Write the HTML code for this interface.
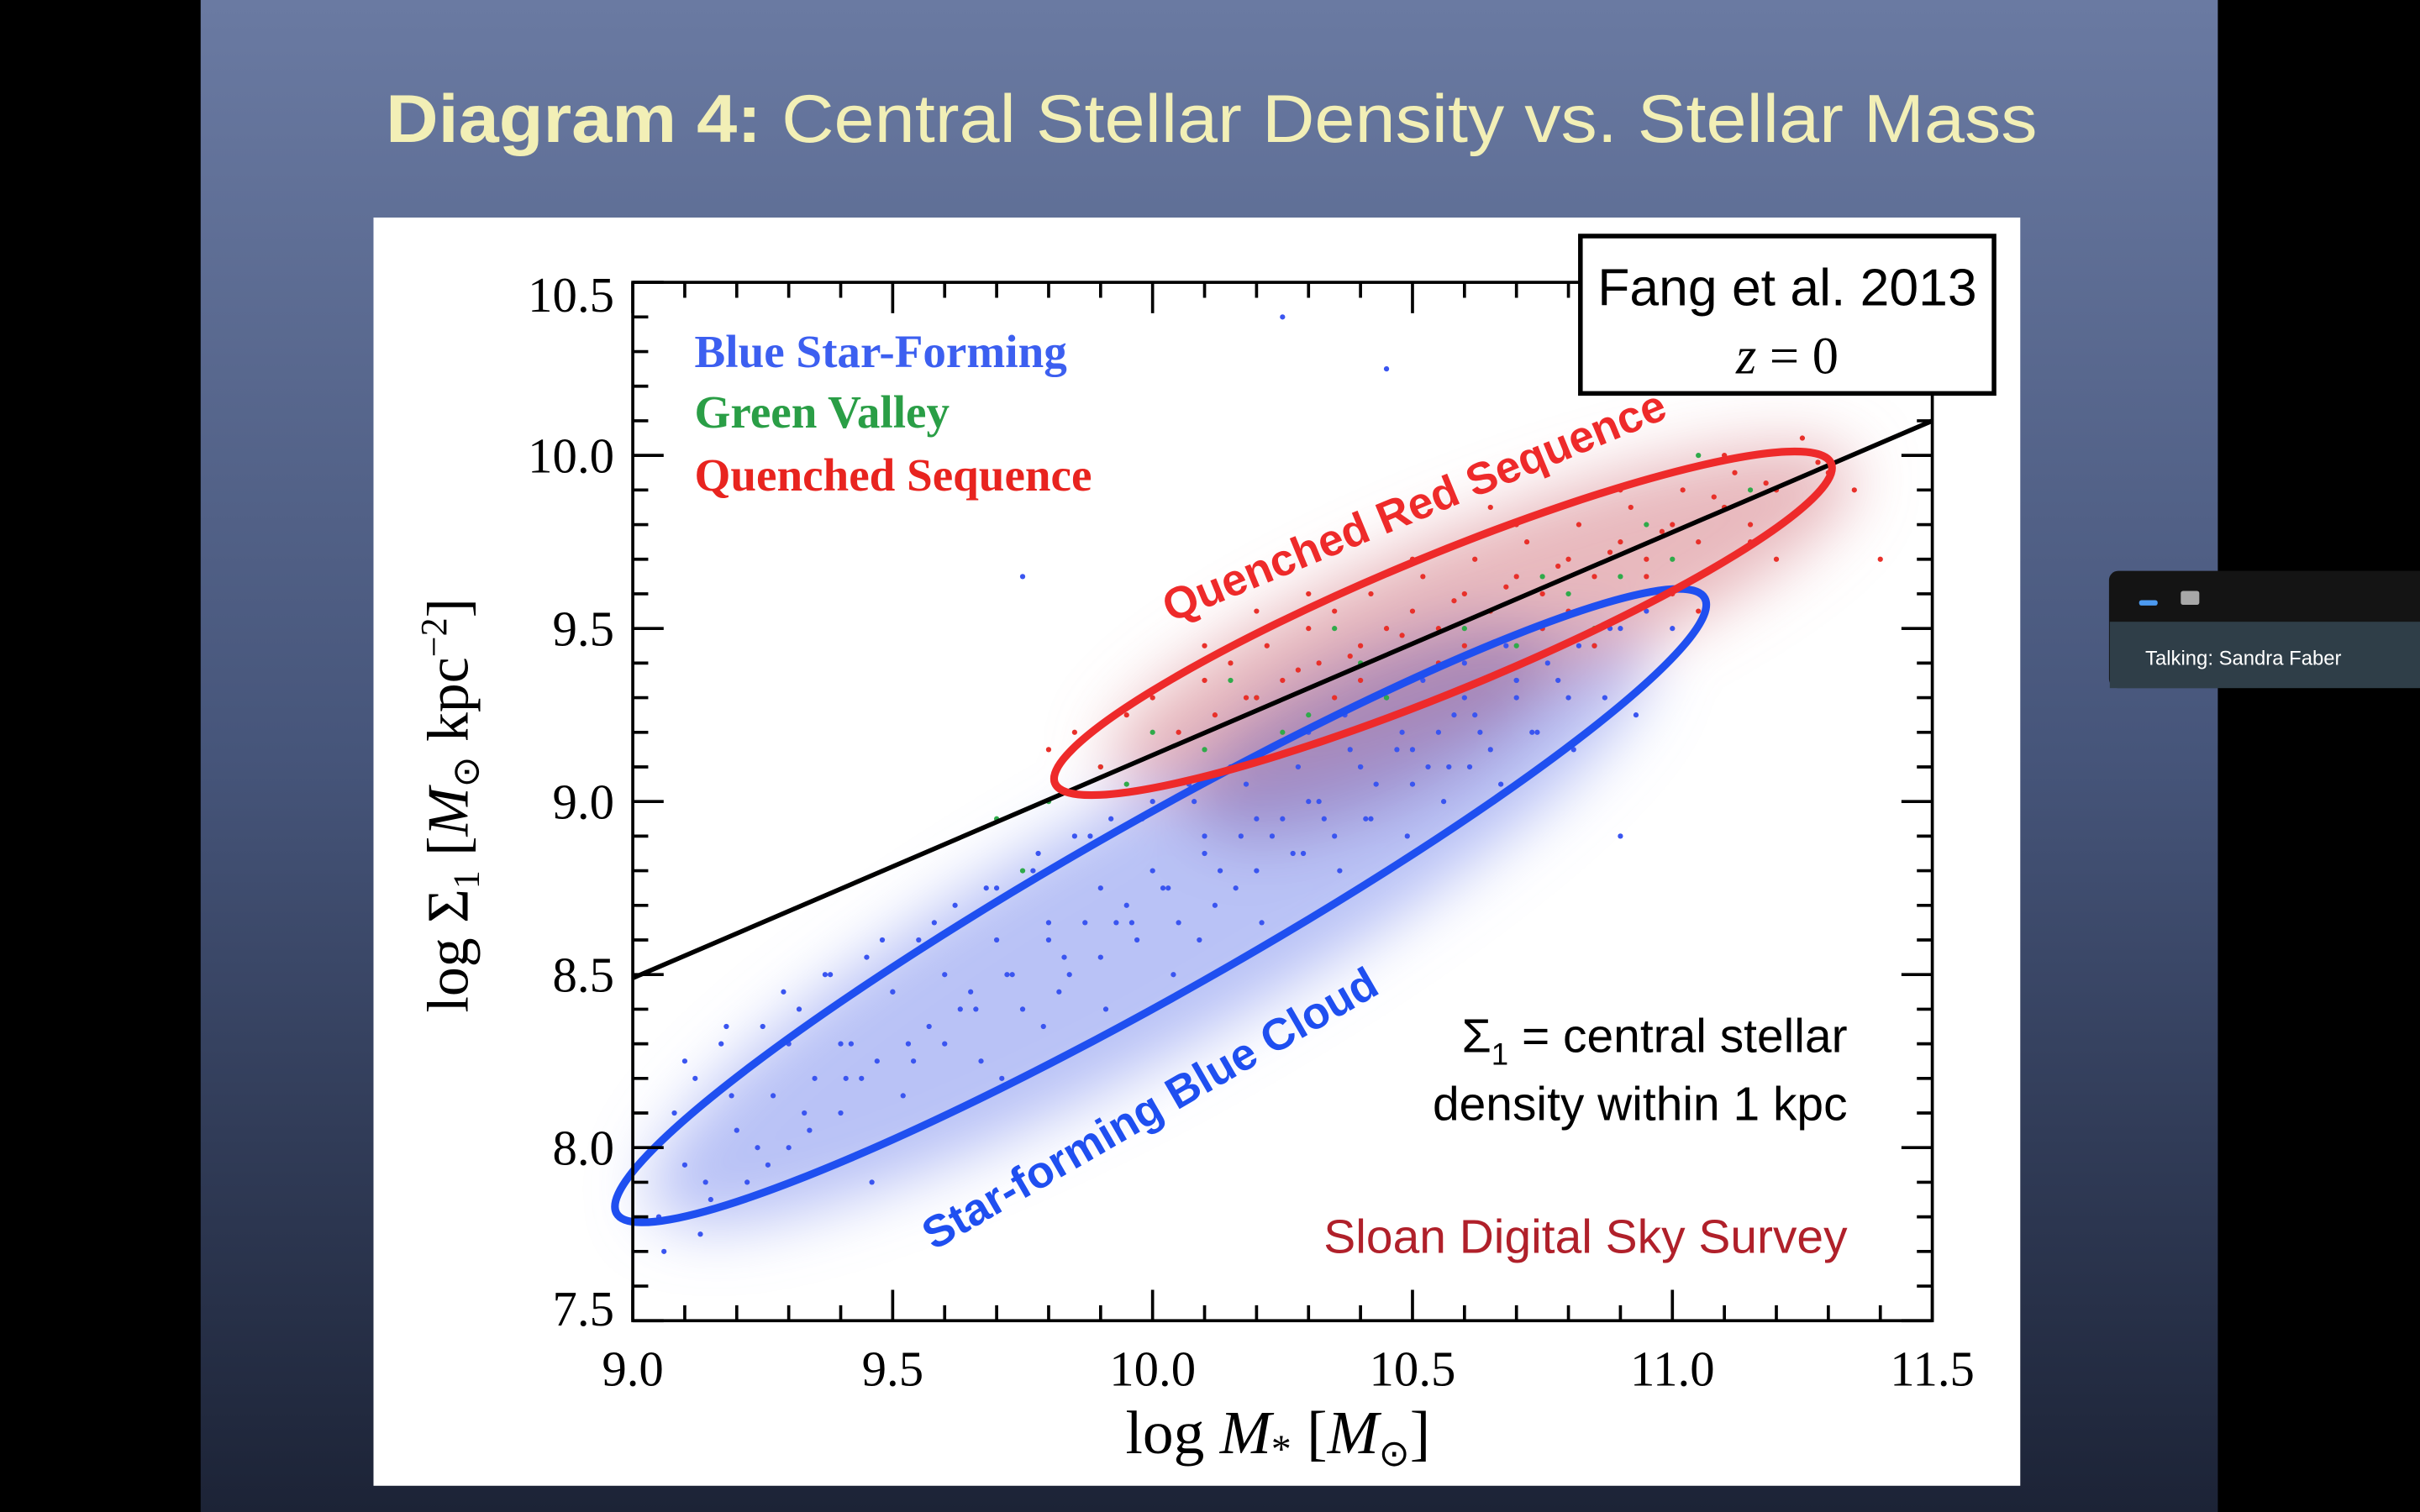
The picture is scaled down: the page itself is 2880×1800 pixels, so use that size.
<!DOCTYPE html>
<html><head><meta charset="utf-8"><style>
html,body{margin:0;padding:0;background:#000;width:2880px;height:1800px;overflow:hidden}
svg{display:block}
</style></head><body>
<svg id="root" width="2880" height="1800" viewBox="0 0 1568 980" preserveAspectRatio="none" xmlns="http://www.w3.org/2000/svg">
<defs>
<linearGradient id="bg" x1="0" y1="0" x2="0" y2="1">
<stop offset="0" stop-color="#6a7aa2"/><stop offset="0.5" stop-color="#46557a"/><stop offset="1" stop-color="#1c2336"/>
</linearGradient>
<filter id="blur" x="-50%" y="-50%" width="200%" height="200%"><feGaussianBlur stdDeviation="20"/></filter>
</defs>
<rect x="0" y="0" width="1568" height="980" fill="#000"/>
<rect x="130" y="0" width="1307" height="980" fill="url(#bg)"/>
<text x="250" y="92" font-family="Liberation Sans, sans-serif" font-size="44" fill="#f2efb6" textLength="1070" lengthAdjust="spacingAndGlyphs"><tspan font-weight="bold">Diagram 4:</tspan> Central Stellar Density vs. Stellar Mass</text>
<rect x="242" y="141" width="1067" height="822" fill="#fff"/>

<g id="haze" filter="url(#blur)">
<ellipse cx="745" cy="600" rx="370" ry="80" transform="rotate(-29.5 745 600)" fill="#8a9af0" opacity="0.6"/>
<ellipse cx="960" cy="400" rx="260" ry="60" transform="rotate(-22 960 400)" fill="#d98a92" opacity="0.6"/>
<ellipse cx="890" cy="475" rx="130" ry="50" transform="rotate(-25 890 475)" fill="#8a70b0" opacity="0.55"/>
</g>
<g id="points"></g>
<g id="fitline"></g>

<ellipse cx="752" cy="587" rx="405" ry="56" transform="rotate(-29.5 752 587)" fill="none" stroke="#1f4ff0" stroke-width="5"/>
<ellipse cx="935" cy="404" rx="272" ry="44" transform="rotate(-22.4 935 404)" fill="none" stroke="#ee2a2a" stroke-width="5"/>
<text x="920" y="337" transform="rotate(-22.4 920 337)" text-anchor="middle" font-family="Liberation Sans, sans-serif" font-weight="bold" font-size="29" fill="#ee2a2a">Quenched Red Sequence</text>
<text x="750" y="727" transform="rotate(-30 750 727)" text-anchor="middle" font-family="Liberation Sans, sans-serif" font-weight="bold" font-size="29" fill="#1f4ff0">Star-forming Blue Cloud</text>

<g id="axes"></g>
<rect x="410" y="183" width="842" height="673" fill="none" stroke="#000" stroke-width="2"/>

<g font-family="Liberation Serif, serif" font-weight="bold" font-size="30">
<text x="450" y="238" fill="#3c5ff0">Blue Star-Forming</text>
<text x="450" y="277" fill="#2a9e46">Green Valley</text>
<text x="450" y="318" fill="#e8241f">Quenched Sequence</text>
</g>

<rect x="1024" y="153" width="268" height="102" fill="#fff" stroke="#000" stroke-width="3"/>
<text x="1158" y="198" text-anchor="middle" font-family="Liberation Sans, sans-serif" font-size="34" fill="#000">Fang et al. 2013</text>
<text x="1158" y="242" text-anchor="middle" font-family="Liberation Serif, serif" font-size="34" fill="#000"><tspan font-style="italic">z</tspan> = 0</text>

<text x="1197" y="682" text-anchor="end" font-family="Liberation Sans, sans-serif" font-size="31" fill="#000">Σ<tspan font-size="20" dy="8">1</tspan><tspan dy="-8"> = central stellar</tspan></text>
<text x="1197" y="726" text-anchor="end" font-family="Liberation Sans, sans-serif" font-size="31" fill="#000">density within 1 kpc</text>
<text x="1197" y="812" text-anchor="end" font-family="Liberation Sans, sans-serif" font-size="31" fill="#b0202a">Sloan Digital Sky Survey</text>

<text x="828" y="942" text-anchor="middle" font-family="Liberation Serif, serif" font-size="40" fill="#000">log <tspan font-style="italic">M</tspan><tspan font-size="26" dy="6">*</tspan><tspan dy="-6">  [</tspan><tspan font-style="italic">M</tspan><tspan font-size="24" dy="8">⊙</tspan><tspan dy="-8">]</tspan></text>
<text x="303" y="522" transform="rotate(-90 303 522)" text-anchor="middle" font-family="Liberation Serif, serif" font-size="38" fill="#000">log Σ<tspan font-size="24" dy="7">1</tspan><tspan dy="-7"> [</tspan><tspan font-style="italic">M</tspan><tspan font-size="24" dy="7">⊙</tspan><tspan dy="-7"> kpc</tspan><tspan font-size="24" dy="-14">−2</tspan><tspan dy="14">]</tspan></text>

<g>
<rect x="1366.5" y="370" width="220" height="76" rx="6" fill="#141414"/>
<rect x="1367" y="403" width="210" height="43" fill="#2f3e48"/>
<rect x="1386" y="389" width="12" height="3.5" rx="1.5" fill="#4c9af0"/>
<rect x="1413" y="383" width="12" height="9" rx="1.5" fill="#a8a8a8"/>
<text x="1390" y="431" font-family="Liberation Sans, sans-serif" font-size="13" fill="#fff">Talking: Sandra Faber</text>
</g>
</svg>
<script>
const xTicks=[9.0,9.5,10.0,10.5,11.0,11.5];
const yTicks=[7.5,8.0,8.5,9.0,9.5,10.0,10.5];
const xTickLabels=["9.0","9.5","10.0","10.5","11.0","11.5"];
const yTickLabels=["7.5","8.0","8.5","9.0","9.5","10.0","10.5"];
const lineX=[9.0,11.5];
const lineY=[8.49,10.10];
const blueX=[9.05,9.08,9.1,9.12,9.15,9.17,9.2,9.22,9.25,9.27,9.3,9.32,9.35,9.37,9.4,9.42,9.45,9.47,9.5,9.52,9.55,9.57,9.6,9.62,9.65,9.67,9.7,9.72,9.75,9.77,9.8,9.82,9.85,9.87,9.9,9.92,9.95,9.97,10.0,10.02,10.05,10.07,10.1,10.12,10.15,10.17,10.2,10.22,10.25,10.27,10.3,10.32,10.35,10.37,10.4,10.42,10.45,10.47,10.5,10.52,10.55,10.57,10.6,10.62,10.65,10.68,10.7,10.73,10.75,10.78,10.8,10.85,10.9,10.95,11.0,
9.1,9.14,9.18,9.24,9.29,9.33,9.38,9.44,9.48,9.53,9.58,9.63,9.68,9.73,9.78,9.83,9.88,9.93,9.98,10.03,10.08,10.13,10.18,10.23,10.28,10.33,10.38,10.43,10.48,10.53,10.58,10.63,10.7,10.76,10.82,10.88,
9.2,9.3,9.4,9.5,9.6,9.7,9.8,9.9,10.0,10.1,10.2,10.3,10.4,10.5,10.6,10.7,10.25,10.45,9.75,10.9,
9.06,9.13,9.19,9.26,9.34,9.41,9.46,9.54,9.61,9.66,9.71,9.79,9.84,9.91,9.96,10.04,10.09,10.16,10.21,10.29,10.36,10.41,10.49,10.56,10.61,10.67,10.74,10.81,10.87,10.93];
const blueY=[7.8,8.1,7.95,8.2,7.85,8.3,8.05,7.9,8.35,8.15,8.0,8.4,8.2,8.5,8.1,8.3,8.55,8.25,8.45,8.15,8.6,8.35,8.3,8.7,8.45,8.25,8.75,8.5,8.4,8.8,8.6,8.45,8.9,8.65,8.55,8.95,8.7,8.6,9.0,8.75,8.65,9.05,8.85,8.7,9.1,8.9,8.8,9.15,8.95,8.85,9.2,9.0,8.9,9.25,9.1,8.95,9.3,9.15,9.05,9.35,9.2,9.1,9.4,9.25,9.15,9.45,9.3,9.2,9.5,9.35,9.3,9.45,9.5,9.55,9.5,
8.25,7.9,8.35,8.0,8.45,8.1,8.5,8.2,8.6,8.3,8.65,8.4,8.75,8.5,8.85,8.55,8.9,8.65,8.95,8.75,9.0,8.8,9.05,8.9,9.1,8.95,9.15,9.05,9.2,9.1,9.25,9.2,9.35,9.4,9.45,9.5,
8.2,8.3,8.3,8.45,8.5,8.6,8.65,8.75,8.8,8.9,8.95,9.0,9.1,9.15,9.3,9.35,10.4,10.25,9.65,8.9,
7.7,7.75,8.15,7.95,8.05,8.2,7.9,8.25,8.1,8.4,8.2,8.35,8.5,8.4,8.65,8.5,8.6,8.75,8.65,8.85,8.8,8.95,8.9,9.0,9.1,9.05,9.2,9.15,9.3,9.25];
const redX=[9.8,9.85,9.9,9.95,10.0,10.05,10.1,10.12,10.15,10.2,10.22,10.25,10.3,10.32,10.35,10.4,10.42,10.45,10.5,10.52,10.55,10.6,10.62,10.65,10.7,10.72,10.75,10.8,10.82,10.85,10.9,10.92,10.95,11.0,11.02,11.05,11.1,11.12,11.15,11.2,11.25,11.3,11.35,11.4,
10.1,10.2,10.3,10.4,10.5,10.6,10.7,10.8,10.9,11.0,11.1,11.2,10.35,10.55,10.75,10.95,11.15,10.65,10.85,11.05,11.25,10.45,
10.18,10.28,10.38,10.48,10.58,10.68,10.78,10.88,10.98,11.08,11.18,11.28];
const redY=[9.15,9.2,9.1,9.25,9.3,9.2,9.35,9.25,9.4,9.3,9.45,9.35,9.5,9.4,9.55,9.45,9.6,9.5,9.55,9.65,9.5,9.6,9.7,9.55,9.65,9.75,9.6,9.7,9.8,9.65,9.75,9.85,9.7,9.8,9.9,9.75,9.85,9.95,9.8,9.9,9.85,9.95,9.9,9.7,
9.45,9.55,9.6,9.35,9.7,9.45,9.8,9.55,9.9,9.6,10.0,9.7,9.3,9.4,9.5,9.65,9.75,9.85,9.45,9.55,10.05,9.8,
9.3,9.38,9.42,9.48,9.58,9.62,9.68,9.72,9.78,9.88,9.92,9.98];
const greenX=[9.7,9.8,9.9,10.0,10.1,10.2,10.3,10.4,10.5,10.6,10.7,10.8,10.9,11.0,11.1,9.75,9.95,10.15,10.35,10.55,10.75,10.95,11.15,10.25,10.45,10.65,10.85,11.05];
const greenY=[8.95,9.0,9.1,9.2,9.15,9.3,9.25,9.4,9.35,9.5,9.45,9.6,9.65,9.7,9.85,8.8,9.05,9.35,9.5,9.3,9.65,9.8,9.9,9.2,9.3,9.55,9.5,10.0];

const NS='http://www.w3.org/2000/svg';
const X0=410,X1=1252,Y0=856,Y1=183;
function X(v){return X0+(v-9.0)/(11.5-9.0)*(X1-X0);}
function Y(v){return Y0-(v-7.5)/(10.5-7.5)*(Y0-Y1);}
function mk(tag,attrs,parent){const e=document.createElementNS(NS,tag);for(const k in attrs)e.setAttribute(k,attrs[k]);parent.appendChild(e);return e;}

const pts=document.getElementById('points');
function drawSeries(xs,ys,color,name){
  for(let i=0;i<xs.length;i++){
    const c=mk('circle',{cx:X(xs[i]),cy:Y(ys[i]),r:1.7,fill:color},pts);
    
    
  }
}
drawSeries(blueX,blueY,'#3a55f0','blue-point');
drawSeries(greenX,greenY,'#2faa4a','green-point');
drawSeries(redX,redY,'#e8302a','red-point');

const fl=document.getElementById('fitline');
const ln=mk('line',{x1:X(lineX[0]),y1:Y(lineY[0]),x2:X(lineX[1]),y2:Y(lineY[1]),stroke:'#000','stroke-width':3},fl);



const ax=document.getElementById('axes');
for(let k=0;k<=25;k++){
  const v=9.0+k*0.1, major=(k%5===0), L=major?20:10, px=X(v);
  const t1=mk('line',{x1:px,y1:Y0,x2:px,y2:Y0-L,stroke:'#000','stroke-width':2},ax);
  
  
  const t2=mk('line',{x1:px,y1:Y1,x2:px,y2:Y1+L,stroke:'#000','stroke-width':2},ax);
  
  
}
for(let k=0;k<=30;k++){
  const v=7.5+k*0.1, major=(k%5===0), L=major?20:10, py=Y(v);
  const t1=mk('line',{x1:X0,y1:py,x2:X0+L,y2:py,stroke:'#000','stroke-width':2},ax);
  
  
  const t2=mk('line',{x1:X1,y1:py,x2:X1-L,y2:py,stroke:'#000','stroke-width':2},ax);
  
  
}
xTicks.forEach((v,i)=>{
  const t=mk('text',{x:X(v),y:898,'text-anchor':'middle','font-family':'Liberation Serif, serif','font-size':32,fill:'#000'},ax);
  t.textContent=xTickLabels[i];
  
  
});
yTicks.forEach((v,i)=>{
  const yy=Y(v)+11+(v===10.5?8:0)-(v===7.5?8:0);
  const t=mk('text',{x:398,y:yy,'text-anchor':'end','font-family':'Liberation Serif, serif','font-size':32,fill:'#000'},ax);
  t.textContent=yTickLabels[i];
  
  
});
</script>
</body></html>
